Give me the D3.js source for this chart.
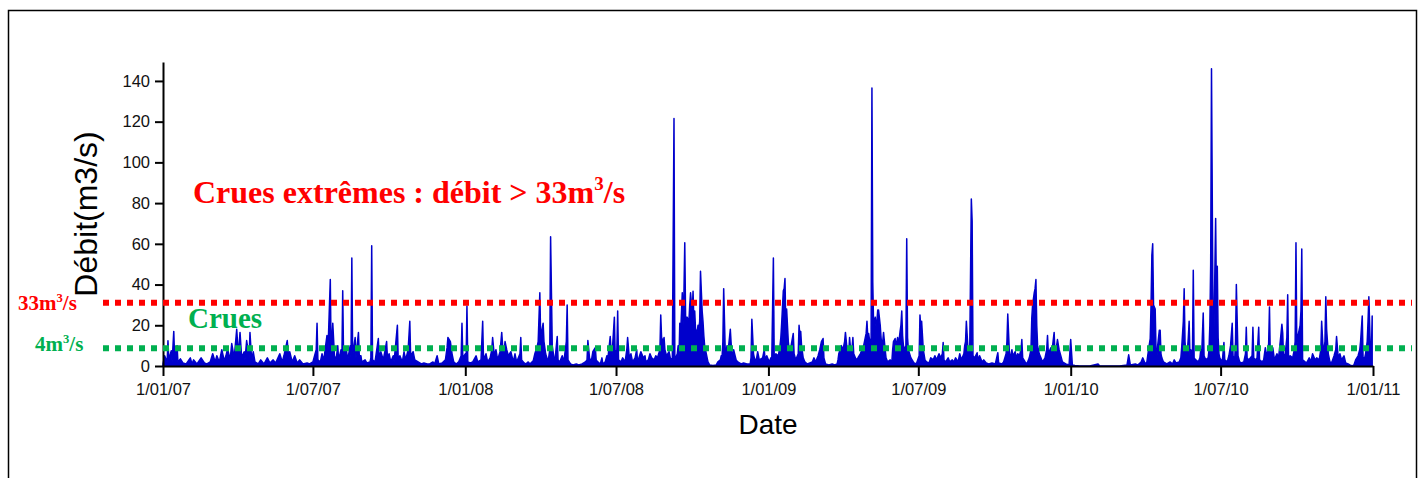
<!DOCTYPE html>
<html>
<head>
<meta charset="utf-8">
<script src="https://cdn.jsdelivr.net/npm/d3@7"></script>
<style>
  body { margin:0; background:#fff; }
  svg { display:block; }
  .tick text { font-family: "Liberation Sans", Arial, sans-serif; font-size:16.5px; fill:#111; }
</style>
</head>
<body>
<svg id="chart" width="1425" height="478"></svg>
<script>
// daily discharge, [days since 1/01/07, m3/s]
var flow = [
[0,1],[2,5],[5,2],[6,12.4],[7,3],[10,7.5],[11,2],[13,17],[14,4],[17,10],[18,2],[21,3.5],[24,1.5],[28,1],[33,4],[35,1],[37,3],[41,1],[46,4],[50,1.5],[53,1],[57,2],
[60,6],[63,2],[65,5],[68,2],[71,8],[74,2.5],[76,5],[78,8.5],[81,3],[83,11],[86,4],[89,18],[91,5],[93,16.5],[95,4],[98,7],[99,3],[101,12.5],[104,4],[105,16.5],[107,3],[109,7],
[111,2],[115,1],[118,3],[122,1],[126,4],[129,1.5],[133,3],[136,1.5],[141,6],[144,2],[146,5],[150,12.5],[152,3],[153,7],[156,2],[159,5],[162,1.5],[165,3],[169,1],[174,1.5],[177,1],[181,2],
[185,8],[186,21],[187,3],[190,2],[192,6],[194,2.5],[198,15],[199,5],[202,42.5],[203,6],[205,21],[207,5],[209,3],[211,10],[212,3],[215,8],[216,4],[217,37],[218,5],[221,9],[223,3],[226,10],[227,4],
[228,53],[229,5],[232,14],[233,4],[236,16.5],[237,5],[239,5],[240,2],[244,3],[246,1.5],[250,2],[251,4],[252,59],[253,3],[256,2],[260,13.5],[261,4],[263,7],[266,3],[270,12],[271,4],[273,6],[275,2],
[278,5],[279,2],[283,20],[284,3],[286,5],[289,2],[291,7],[293,3],[296,8],[298,22],[299,5],[302,7],[304,3],[308,2],[312,1],[315,1.5],[319,1],[322,1],[326,2],[328,1],[331,5],[333,1],[337,1.5],
[341,3],[343,9],[344,14],[347,12],[349,6],[351,2],[354,1],[357,2],[360,5],[361,21],[362,4],[365,6],[366,3],[367,29.5],[368,2],[371,1.5],[374,2],[378,5],[380,2],[384,3],[386,22],[387,3],[390,6],
[392,2],[395,4],[397,8],[398,14],[400,5],[402,8],[404,3],[407,7],[409,16.5],[411,4],[413,12],[415,8],[417,5],[420,7],[423,2],[425,6],[427,2],[431,6],[432,14],[433,3],[436,1.5],[438,1],[441,2],
[443,1],[447,2.5],[449,6],[452,10],[453,12],[455,36],[456,14],[459,21],[460,12],[462,6],[465,2],[467,8],[468,63.5],[470,10],[472,4],[473,1.5],[476,14.5],[477,3],[479,2],[482,5],[484,2],[487,12],
[488,30],[489,3],[492,1],[495,0.5],[499,1],[502,0.5],[506,1],[510,2],[512,3],[513,12.5],[515,4],[517,2],[519,7],[522,9],[523,3],[525,2],[528,1],[530,4],[531,1],[534,2],[536,5],[537,3],[540,14.5],
[541,8],[542,4],[545,24],[546,5],[548,8],[549,27],[550,3],[553,2],[555,4],[558,2],[560,8],[561,14],[563,4],[565,6],[567,2],[570,4],[572,8],[573,2],[577,7],[580,4],[582,5],[583,2],[586,3],[588,6],
[590,4],[593,3],[595,5],[597,4],[600,8],[601,25],[602,14],[604,12],[605,14],[606,8],[608,5],[611,7],[613,3],[615,4],[617,121.5],[618,3],[621,6],[622,10],[623,4],[624,21],[625,16],[627,36],[628,20],
[629,36],[630,60.5],[631,24],[633,24],[634,22],[635,22],[636,30],[637,36],[639,26],[640,36.7],[641,22],[642,27],[643,18],[645,17],[646,20],[647,18],[648,22],[649,46.5],[651,27],[652,22],[653,15],
[654,10],[655,8],[657,4],[658,2],[660,0.5],[664,0.3],[668,0.5],[670,2],[673,3],[674,5],[675,4],[676,12],[677,38],[679,5],[681,10],[682,6],[684,14],[685,18],[687,4],[689,8],[692,3],[694,2],
[698,1],[701,1.5],[705,1],[709,1],[710,4],[711,23],[713,6],[714,4],[716,2],[718,7],[720,3],[724,4],[726,8],[727,3],[729,5],[732,2],[734,4],[735,2],[737,53],[738,3],[740,6],[743,5],[745,10],
[746,14],[747,21],[749,37],[750,38],[751,43],[752,20],[753,28],[755,12],[756,8],[758,9],[761,16],[762,6],[764,3],[767,6],[768,20],[769,15],[770,17],[771,10],[773,4],[775,2],[778,1],[781,1.5],
[784,2],[786,4],[788,2],[791,5],[793,8],[794,10],[795,12],[797,13.5],[798,4],[800,1],[804,0.5],[808,1],[811,0.5],[814,1],[815,3],[816,6],[819,10],[821,8],[823,12],[824,16.5],[826,8],[828,6],
[829,14],[831,4],[833,14],[834,6],[837,3],[839,4],[842,6],[844,8],[846,10],[849,16],[850,22],[851,14],[852,16],[854,10],[855,14],[856,136.5],[857,41],[858,20],[860,24],[861,19],[862,22],
[863,27.5],[864,27.5],[866,20],[867,14],[868,10],[869,12],[870,16.5],[872,8],[873,4],[875,2],[878,3],[880,2],[881,8],[882,12],[884,13.5],[885,8],[886,12],[887,14],[888,10],[890,17],[891,20],
[892,27],[893,15],[894,10],[896,8],[897,10],[898,62.5],[899,14],[900,8],[903,4],[906,2],[908,1],[910,1.5],[913,5],[914,25],[915,18],[916,22],[918,8],[920,3],[922,2],[925,1.5],[927,4],[930,3],
[932,5],[934,3],[937,6],[939,4],[941,6],[942,11.5],[943,3],[945,2],[948,4],[950,2],[953,3],[955,2],[957,4],[960,2],[962,6],[964,3],[967,6],[968,10],[969,12],[970,22],[972,8],[973,4],[974,5],
[976,82],[977,71],[978,5],[980,4],[983,6.5],[984,3],[986,5],[989,2],[991,3],[994,1.5],[997,1],[1001,1.5],[1005,1],[1008,6.5],[1009,1.5],[1013,1],[1015,2],[1018,6],[1019,12],[1020,25.5],
[1022,6],[1023,4],[1025,8],[1026,5],[1029,7],[1030,4],[1032,6],[1034,5],[1036,8],[1037,13],[1038,4],[1041,2],[1043,1],[1046,4],[1048,8],[1049,23.5],[1050,30],[1052,36],[1053,38],[1054,42.5],
[1055,20],[1056,10],[1058,6],[1060,4],[1062,2],[1065,4],[1067,8],[1068,15],[1069,6],[1072,9],[1073,6],[1076,16.5],[1077,6],[1079,10],[1080,13],[1082,8],[1084,5],[1086,2],[1090,1],[1094,0.5],
[1096,13],[1098,0.5],[1101,0.2],[1107,0],[1119,0],[1129,1],[1131,0],[1143,0],[1155,0],[1164,0.5],[1166,5.5],[1168,0.5],[1174,1],[1177,0.5],[1181,2],[1183,4],[1186,1],[1188,2],[1190,8],
[1192,13.5],[1193,30],[1194,54.5],[1195,60],[1196,30],[1198,28],[1199,8],[1200,4],[1201,10],[1203,17.5],[1204,17.5],[1205,6],[1206,4],[1208,2],[1210,1.5],[1212,1],[1216,2],[1219,1],[1221,3],
[1223,1.5],[1227,2],[1229,4],[1230,9],[1232,22],[1233,38],[1234,12],[1235,6],[1237,8],[1238,14],[1239,22],[1240,5],[1241,8],[1243,5],[1244,47],[1245,4],[1247,3],[1250,2],[1252,4],[1253,8],
[1254,4],[1256,26],[1257,5],[1259,3],[1262,4],[1263,8],[1264,20],[1265,50],[1266,146],[1268,10],[1269,18],[1271,72.5],[1272,30],[1273,49],[1274,14],[1275,6],[1276,4],[1279,2],[1281,11.5],
[1282,3],[1285,2],[1287,5],[1289,10],[1291,21],[1292,5],[1294,3],[1295,12],[1296,40],[1298,5],[1300,2],[1302,1.5],[1305,2],[1307,6],[1308,19],[1309,4],[1311,3],[1315,5],[1316,19],[1317,4],
[1319,3],[1321,4],[1323,19],[1324,3],[1327,2],[1329,3],[1331,9],[1333,4],[1335,11],[1336,29],[1337,4],[1340,9],[1342,3],[1345,6],[1347,4],[1349,12],[1351,20.5],[1352,16],[1353,4],[1355,6],
[1357,14],[1358,35],[1359,4],[1361,5],[1364,4],[1366,8],[1367,12],[1368,60.5],[1369,10],[1370,14],[1373,20],[1374,27],[1375,57.5],[1376,3],[1379,2],[1381,1.5],[1384,4],[1386,2],[1388,6],
[1391,3],[1393,4],[1396,3],[1398,8],[1399,22],[1401,6],[1403,12],[1404,34],[1405,18],[1407,6],[1409,2],[1411,1.5],[1414,5],[1416,8],[1417,14.5],[1419,4],[1421,6],[1423,3],[1426,5],[1428,1.5],
[1431,1],[1433,0.5],[1436,0],[1438,0.5],[1440,3],[1443,5],[1445,8],[1446,12],[1448,24.5],[1449,4],[1451,4],[1452,6],[1454,12],[1455,22],[1456,34],[1458,5],[1459,6],[1460,24.5]
];

var startDate = new Date(2007, 0, 1);
var endDate = new Date(2011, 0, 1);
var xTicks = ["2007-01-01","2007-07-01","2008-01-01","2008-07-01","2009-01-01","2009-07-01","2010-01-01","2010-07-01","2011-01-01"];
var yTicks = [0, 20, 40, 60, 80, 100, 120, 140];
// threshold lines as drawn in the picture, with their labels
var thresholdLabels = ["33", "4"];
var thresholdValues = [31.1, 8.7];
var thresholdColors = ["#ff0000", "#00b050"];

var svg = d3.select("#chart");

var PLOT_LEFT = 163, PLOT_RIGHT = 1373;
var PLOT_BOTTOM = 366, PLOT_TOP = 62;

var x = d3.scaleTime().domain([startDate, endDate]).range([PLOT_LEFT, PLOT_RIGHT]);
var y = d3.scaleLinear().domain([0, 149.3]).range([PLOT_BOTTOM, PLOT_TOP]);

// frame
svg.append("rect")
    .attr("x", 8.5).attr("y", 10.5)
    .attr("width", 1408).attr("height", 480)
    .attr("fill", "none").attr("stroke", "#000").attr("stroke-width", 1.5);

// flow area
var area = d3.area()
    .x(function(d){ return x(d3.timeDay.offset(startDate, d[0])); })
    .y0(y(0))
    .y1(function(d){ return y(d[1]); });

svg.append("path")
    .datum(flow)
    .attr("d", area)
    .attr("fill", "#0000cc")
    .attr("stroke", "#0000cc")
    .attr("stroke-width", 1.5)
    .attr("stroke-linejoin", "round");

// axes
var parse = d3.timeParse("%Y-%m-%d");
var xAxis = d3.axisBottom(x)
    .tickValues(xTicks.map(parse))
    .tickFormat(d3.timeFormat("%-d/%m/%y"))
    .tickSize(10).tickSizeOuter(0).tickPadding(7);
var gx = svg.append("g").attr("transform", "translate(0," + PLOT_BOTTOM + ")").call(xAxis);
gx.select(".domain").attr("stroke-width", 2);
gx.selectAll(".tick line").attr("stroke-width", 2);

var yAxis = d3.axisLeft(y).tickValues(yTicks).tickSize(8).tickSizeOuter(0).tickPadding(5);
var gy = svg.append("g").attr("transform", "translate(" + PLOT_LEFT + ",0)").call(yAxis);
gy.select(".domain").attr("stroke-width", 2);
gy.selectAll(".tick line").attr("stroke-width", 2);

// axis titles
svg.append("text")
    .attr("x", 768).attr("y", 434)
    .attr("text-anchor", "middle")
    .style("font-family", "Liberation Sans, Arial, sans-serif").style("font-size", "28px")
    .text("Date");

svg.append("text")
    .attr("transform", "translate(97,214) rotate(-90)")
    .attr("text-anchor", "middle")
    .style("font-family", "Liberation Sans, Arial, sans-serif").style("font-size", "32px")
    .text("Débit(m3/s)");

// threshold lines
thresholdValues.forEach(function(v, i){
    svg.append("line")
        .attr("x1", 103).attr("x2", 1412)
        .attr("y1", y(v)).attr("y2", y(v))
        .attr("stroke", thresholdColors[i])
        .attr("stroke-width", 6)
        .attr("stroke-dasharray", "6,6");
});

var serif = "Liberation Serif, Times New Roman, serif";

function unitLabel(tx, ty, size, color, num){
    var t = svg.append("text")
        .attr("x", tx).attr("y", ty)
        .attr("fill", color)
        .style("font-family", serif).style("font-weight", "bold").style("font-size", size + "px");
    t.append("tspan").text(num + "m");
    t.append("tspan").attr("dy", -size * 0.38).style("font-size", (size * 0.6) + "px").text("3");
    t.append("tspan").attr("dy", size * 0.38).text("/s");
    return t;
}

unitLabel(18, 310, 21, thresholdColors[0], thresholdLabels[0]);
unitLabel(35, 351, 21, thresholdColors[1], thresholdLabels[1]);

// annotations
var title = svg.append("text")
    .attr("x", 193).attr("y", 203)
    .attr("fill", "#ff0000")
    .style("font-family", serif).style("font-weight", "bold").style("font-size", "32px");
title.append("tspan").text("Crues extrêmes : débit > " + thresholdLabels[0] + "m");
title.append("tspan").attr("dy", -13).style("font-size", "19px").text("3");
title.append("tspan").attr("dy", 13).text("/s");

svg.append("text")
    .attr("x", 188).attr("y", 328)
    .attr("fill", "#00b050")
    .style("font-family", serif).style("font-weight", "bold").style("font-size", "29px")
    .text("Crues");
</script>
</body>
</html>
